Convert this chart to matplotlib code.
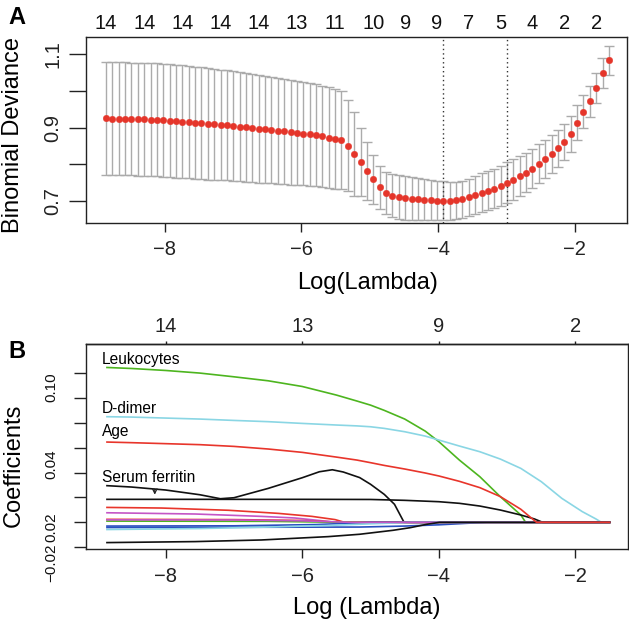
import matplotlib
matplotlib.use("Agg")
import matplotlib.pyplot as plt
from matplotlib.transforms import blended_transform_factory

plt.rcParams['font.family'] = ['Liberation Sans', 'DejaVu Sans']

# ---------------- Panel A data (cross-validation curve) ----------------
log_lambda = [-8.861, -8.768, -8.675, -8.581, -8.488, -8.395, -8.302, -8.209, -8.115, -8.022,
              -7.929, -7.836, -7.743, -7.649, -7.556, -7.463, -7.370, -7.277, -7.183, -7.090,
              -6.997, -6.904, -6.811, -6.717, -6.624, -6.531, -6.438, -6.345, -6.251, -6.158,
              -6.065, -5.972, -5.879, -5.785, -5.692, -5.599, -5.506, -5.413, -5.319, -5.226,
              -5.133, -5.040, -4.947, -4.853, -4.760, -4.667, -4.574, -4.481, -4.387, -4.294,
              -4.201, -4.108, -4.015, -3.921, -3.828, -3.735, -3.642, -3.549, -3.455, -3.362,
              -3.269, -3.176, -3.083, -2.989, -2.896, -2.803, -2.710, -2.617, -2.523, -2.430,
              -2.337, -2.244, -2.151, -2.057, -1.964, -1.871, -1.778, -1.685, -1.591, -1.498]

cv_mean = [0.925, 0.9247, 0.9244, 0.924, 0.9236, 0.923, 0.9224, 0.9217, 0.921, 0.9202,
           0.9193, 0.9179, 0.9165, 0.915, 0.9135, 0.912, 0.9105, 0.909, 0.9075, 0.906,
           0.9046, 0.9028, 0.901, 0.8992, 0.8974, 0.8956, 0.8936, 0.8916, 0.8896, 0.8876,
           0.8856, 0.884, 0.8819, 0.8792, 0.8765, 0.8728, 0.8692, 0.8656, 0.851, 0.8283,
           0.8065, 0.7829, 0.7593, 0.7375, 0.7221, 0.7148, 0.7112, 0.7084, 0.7066, 0.7048,
           0.703, 0.7021, 0.7012, 0.7003, 0.7008, 0.7021, 0.7048, 0.7103, 0.7157, 0.7221,
           0.7275, 0.7339, 0.7411, 0.7502, 0.7584, 0.7675, 0.7775, 0.7884, 0.802, 0.8156,
           0.8283, 0.8438, 0.8619, 0.8828, 0.9137, 0.9428, 0.9718, 1.0082, 1.049, 1.0836]

cv_se = [0.154, 0.154, 0.154, 0.154, 0.154, 0.154, 0.154, 0.154, 0.154, 0.154,
         0.154, 0.1538, 0.1535, 0.1532, 0.1529, 0.1526, 0.152, 0.1513, 0.1507, 0.15,
         0.1494, 0.1488, 0.1482, 0.1476, 0.147, 0.1463, 0.1454, 0.1445, 0.1436, 0.1427,
         0.1417, 0.141, 0.14, 0.139, 0.138, 0.137, 0.1355, 0.134, 0.1236, 0.1154,
         0.0936, 0.079, 0.0663, 0.058, 0.058, 0.059, 0.0595, 0.059, 0.058, 0.057,
         0.056, 0.055, 0.054, 0.053, 0.052, 0.051, 0.050, 0.051, 0.052, 0.053,
         0.053, 0.054, 0.054, 0.055, 0.055, 0.055, 0.054, 0.054, 0.053, 0.052,
         0.051, 0.050, 0.049, 0.048, 0.047, 0.045, 0.043, 0.041, 0.040, 0.040]

nz_label_index = [0, 6, 12, 18, 24, 30, 36, 42, 47, 52, 57, 62, 67, 72, 77]
nz_labels = ['14', '14', '14', '14', '14', '13', '11', '10', '9', '9', '7', '5', '4', '2', '2']

lambda_min_log = -3.921
lambda_1se_log = -2.989

# ---------------- Panel B data (coefficient paths) ----------------
hump_x = [-8.86, -8.5, -8, -7.5, -7.2, -7, -6.5, -6, -5.75, -5.56, -5.4, -5.16, -5.0, -4.8, -4.65, -4.51, -1.5]
hump_y = [0.0295, 0.0284, 0.0260, 0.0222, 0.0190, 0.0198, 0.0273, 0.0359, 0.0407, 0.0423, 0.0405, 0.0360, 0.0306, 0.0225, 0.0145, 0, 0]

red2_x = [-8.86, -8.06, -7.08, -6.35, -5.86, -5.52, -5.38, -1.5]
red2_y = [0.0120, 0.0115, 0.0097, 0.0072, 0.0048, 0.0022, 0, 0]

leuko_x = [-8.86, -8.5, -8, -7.5, -7, -6.5, -6, -5.5, -5.2, -5.0, -4.8, -4.5, -4.2, -4.0, -3.7, -3.4, -3.1, -2.8, -2.73, -1.5]
leuko_y = [0.1246, 0.1238, 0.1222, 0.1201, 0.1171, 0.1139, 0.1093, 0.1024, 0.0976, 0.0943, 0.0901, 0.0831, 0.0734, 0.0649, 0.0501, 0.0367, 0.0206, 0.0059, 0, 0]

blue1_x = [-8.86, -7, -5.16, -4.5, -4.0, -3.6, -3.3, -1.5]
blue1_y = [-0.0042, -0.0040, -0.0038, -0.0030, -0.0020, -0.0008, 0, 0]

dimer_x = [-8.86, -8.5, -8, -7.5, -7, -6.5, -6, -5.5, -5.2, -5.0, -4.8, -4.5, -4.2, -4.0, -3.7, -3.4, -3.1, -2.8, -2.5, -2.2, -1.9, -1.7, -1.62, -1.5]
dimer_y = [0.0850, 0.0847, 0.0839, 0.0831, 0.0820, 0.0810, 0.0796, 0.0783, 0.0776, 0.0769, 0.0756, 0.0729, 0.0694, 0.0662, 0.0614, 0.0568, 0.0509, 0.0434, 0.0327, 0.0193, 0.0086, 0.0027, 0, 0]

magenta1_x = [-8.86, -7.57, -6.6, -6.11, -5.72, -5.52, -1.5]
magenta1_y = [0.0077, 0.0067, 0.0048, 0.0035, 0.0013, 0, 0]

ferritin_x = [-8.86, -6, -5, -4.5, -4.0, -3.7, -3.4, -3.1, -2.8, -2.6, -2.48, -1.5]
ferritin_y = [0.0185, 0.0185, 0.0184, 0.0177, 0.0166, 0.0153, 0.0131, 0.0099, 0.0059, 0.0027, 0, 0]

red3_x = [-8.86, -7, -6, -5.4, -1.5]
red3_y = [0.0024, 0.0022, 0.0015, 0, 0]

green2_x = [-8.86, -6.5, -5.4, -1.5]
green2_y = [0.0010, 0.0008, 0, 0]

blue2_x = [-8.86, -7, -5.8, -5.0, -1.5]
blue2_y = [-0.0030, -0.0028, -0.0018, 0, 0]

cyan2_x = [-8.86, -7.5, -6.5, -5.6, -5.0, -4.4, -1.5]
cyan2_y = [-0.0058, -0.0050, -0.0038, -0.0025, -0.0012, 0, 0]

magenta2_x = [-8.86, -7, -6, -5.3, -1.5]
magenta2_y = [0.0020, 0.0019, 0.0012, 0, 0]

blacklow_x = [-8.86, -7.57, -6.6, -5.62, -5.16, -4.67, -4.42, -4.18, -3.99, -1.5]
blacklow_y = [-0.0163, -0.0155, -0.0142, -0.0115, -0.0096, -0.0064, -0.0043, -0.0016, 0, 0]

age_x = [-8.86, -8.5, -8, -7.5, -7, -6.5, -6, -5.5, -5.2, -5.0, -4.8, -4.5, -4.2, -4.0, -3.7, -3.4, -3.1, -2.8, -2.57, -1.5]
age_y = [0.0646, 0.0641, 0.0633, 0.0625, 0.0611, 0.0590, 0.0563, 0.0525, 0.0501, 0.0480, 0.0458, 0.0429, 0.0397, 0.0373, 0.0330, 0.0279, 0.0207, 0.0105, 0, 0]

top_b_ticks = [-8, -6, -4, -2]
top_b_labels = ['14', '13', '9', '2']

b_yticks = [-0.02, 0.0, 0.02, 0.04, 0.06, 0.08, 0.10, 0.12]
# y-tick labels of panel B as printed in the figure, with the height at which each is printed
b_ylabel_text = ['0.10', '0.04', '0.02', '\u22120.02']
b_ylabel_at = [0.1085, 0.0469, -0.0038, -0.0326]

# ---------------- styling ----------------
C_BLACK = '#111111'
C_RED = '#E8352B'
C_GREEN = '#4DB51F'
C_BLUE = '#2A4FC0'
C_CYAN = '#8AD6E4'
C_MAG = '#C455C6'
C_GREY = '#ABABAB'
C_POINT = '#E5352A'

W, H = 629, 621
fig = plt.figure(figsize=(W / 100, H / 100), dpi=100)

TICK_FS = 14.5
LAB_FS = 17

def style_axes(ax):
    for s in ax.spines.values():
        s.set_linewidth(1.0)
        s.set_color('#222222')
    ax.tick_params(axis='x', length=6.5, width=1.0, labelsize=TICK_FS, pad=6, colors='#222222')
    ax.tick_params(axis='y', length=8.5, width=1.0, labelsize=TICK_FS, pad=6, colors='#222222')

# ---------------- Panel A ----------------
ax1 = fig.add_axes([86 / W, 1 - 222.7 / H, (626.5 - 86) / W, (222.7 - 37.3) / H])
upper = [m + s for m, s in zip(cv_mean, cv_se)]
lower = [m - s for m, s in zip(cv_mean, cv_se)]
barw = (max(log_lambda) - min(log_lambda)) * 0.01
ax1.vlines(log_lambda, lower, upper, color=C_GREY, lw=1.0, zorder=1)
ax1.hlines(upper, [x - barw for x in log_lambda], [x + barw for x in log_lambda], color=C_GREY, lw=1.0, zorder=1)
ax1.hlines(lower, [x - barw for x in log_lambda], [x + barw for x in log_lambda], color=C_GREY, lw=1.0, zorder=1)
ax1.plot(log_lambda, cv_mean, 'o', color=C_POINT, ms=4.7, mec=C_POINT, mew=0.3, zorder=3)
ax1.axvline(lambda_min_log, color='#333333', lw=1.0, ls=(0, (1, 2.2)), zorder=2)
ax1.axvline(lambda_1se_log, color='#333333', lw=1.0, ls=(0, (1, 2.2)), zorder=2)
ax1.set_xlim(-9.154, -1.240)
ax1.set_ylim(0.6409, 1.1463)
ax1.set_xticks([-8, -6, -4, -2])
ax1.set_yticks([0.7, 0.8, 0.9, 1.0, 1.1])
ax1.set_yticklabels(['0.7', '', '0.9', '', '1.1'], rotation=90, va='center')
style_axes(ax1)
ax1.tick_params(axis='y', length=12, pad=5)

trans1 = blended_transform_factory(ax1.transData, fig.transFigure)
for idx, lab in zip(nz_label_index, nz_labels):
    ax1.text(log_lambda[idx], 1 - 23.5 / H, lab, transform=trans1, ha='center', va='center',
             fontsize=TICK_FS, color='#111111')

fig.text(13 / W, 1 - 135 / H, 'Binomial Deviance', rotation=90, ha='center', va='center', fontsize=LAB_FS)
fig.text(368 / W, 1 - 283 / H, 'Log(Lambda)', ha='center', va='center', fontsize=LAB_FS)
fig.text(17 / W, 1 - 17 / H, 'A', ha='center', va='center', fontsize=17, fontweight='bold')

# ---------------- Panel B ----------------
ax2 = fig.add_axes([86 / W, 1 - 549.3 / H, (628 - 86) / W, (549.3 - 344) / H])
paths = [
    (hump_x, hump_y, C_BLACK),
    (red2_x, red2_y, C_RED),
    (leuko_x, leuko_y, C_GREEN),
    (blue1_x, blue1_y, C_BLUE),
    (dimer_x, dimer_y, C_CYAN),
    (magenta1_x, magenta1_y, C_MAG),
    (ferritin_x, ferritin_y, C_BLACK),
    (red3_x, red3_y, C_RED),
    (green2_x, green2_y, C_GREEN),
    (blue2_x, blue2_y, C_BLUE),
    (cyan2_x, cyan2_y, C_CYAN),
    (magenta2_x, magenta2_y, C_MAG),
    (blacklow_x, blacklow_y, C_BLACK),
    (age_x, age_y, C_RED),
]
for xs, ys, c in paths:
    ax2.plot(xs, ys, color=c, lw=1.2, solid_joinstyle='round')

ax2.set_xlim(-9.167, -1.231)
ax2.set_ylim(-0.0217, 0.1435)
ax2.set_xticks([-8, -6, -4, -2])
ax2.set_yticks(b_yticks)
ax2.set_yticklabels([''] * len(b_yticks))
style_axes(ax2)
ax2.tick_params(axis='y', length=9)

trans2 = blended_transform_factory(fig.transFigure, ax2.transData)
for txt, yv in zip(b_ylabel_text, b_ylabel_at):
    ax2.text(51 / W, yv, txt, transform=trans2, rotation=90, ha='center', va='center',
             fontsize=11, color='#111111', clip_on=False)

sec = ax2.secondary_xaxis('top')
sec.set_xticks(top_b_ticks)
sec.set_xticklabels(top_b_labels)
sec.tick_params(length=2.5, width=1.0, labelsize=TICK_FS, pad=3, colors='#222222')
sec.spines['top'].set_linewidth(1.0)

ax2.text(-8.93, 0.1313, 'Leukocytes', ha='left', va='center', fontsize=11.2)
ax2.text(-8.93, 0.0917, 'D-dimer', ha='left', va='center', fontsize=11.2)
ax2.text(-8.93, 0.0734, 'Age', ha='left', va='center', fontsize=11.2)
ax2.text(-8.93, 0.0359, 'Serum ferritin', ha='left', va='center', fontsize=11.2)
ax2.annotate('', xy=(-8.16, 0.0200), xytext=(-8.16, 0.0290),
             arrowprops=dict(arrowstyle='->', color='#222222', lw=0.9, mutation_scale=8))

fig.text(14 / W, 1 - 465 / H, 'Coefficients', rotation=90, ha='center', va='center', fontsize=LAB_FS)
fig.text(367 / W, 1 - 608 / H, 'Log (Lambda)', ha='center', va='center', fontsize=LAB_FS)
fig.text(17 / W, 1 - 352 / H, 'B', ha='center', va='center', fontsize=17, fontweight='bold')

fig.savefig('out.png', dpi=100)
